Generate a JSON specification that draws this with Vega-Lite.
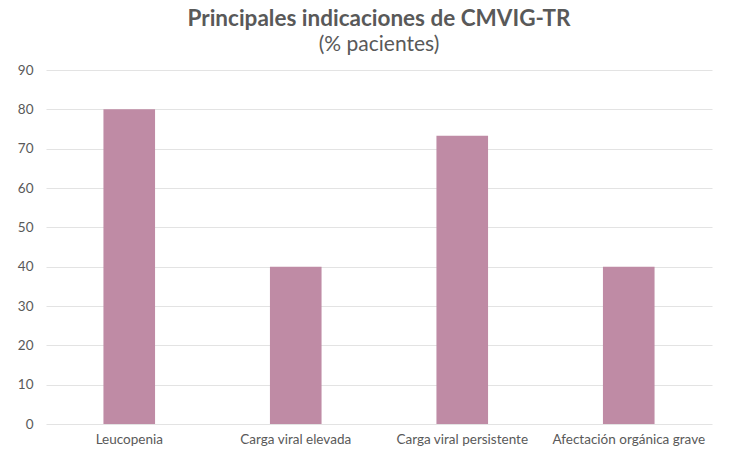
{
  "$schema": "https://vega.github.io/schema/vega-lite/v6.json",
  "width": 666,
  "height": 354,
  "autosize": {"type": "none"},
  "padding": {"left": 46, "top": 70, "right": 38, "bottom": 45},
  "background": "white",
  "title": {
    "text": "Principales indicaciones de CMVIG-TR",
    "subtitle": "(% pacientes)",
    "anchor": "middle",
    "font": "Lato",
    "fontSize": 22.5,
    "fontWeight": "bold",
    "color": "#595959",
    "subtitleFont": "Lato",
    "subtitleFontSize": 21,
    "subtitleColor": "#595959",
    "subtitlePadding": 4,
    "offset": 8
  },
  "config": {
    "view": {"stroke": null},
    "axis": {"labelFont": "Lato", "labelColor": "#595959", "labelFontSize": 13.5}
  },
  "data": {
    "values": [
      {"indicacion": "Leucopenia", "pct": 80},
      {"indicacion": "Carga viral elevada", "pct": 40},
      {"indicacion": "Carga viral persistente", "pct": 73.3},
      {"indicacion": "Afectación orgánica grave", "pct": 40}
    ]
  },
  "mark": {"type": "bar", "color": "#BF8BA5"},
  "encoding": {
    "x": {
      "field": "indicacion",
      "type": "nominal",
      "sort": null,
      "title": null,
      "scale": {"paddingInner": 0.69, "paddingOuter": 0.345},
      "axis": {"labelAngle": 0, "domain": false, "ticks": false, "labelPadding": 8}
    },
    "y": {
      "field": "pct",
      "type": "quantitative",
      "title": null,
      "scale": {"domain": [0, 90]},
      "axis": {
        "values": [0, 10, 20, 30, 40, 50, 60, 70, 80, 90],
        "domain": false,
        "ticks": false,
        "gridColor": "#e3e3e3",
        "labelPadding": 13
      }
    }
  }
}
